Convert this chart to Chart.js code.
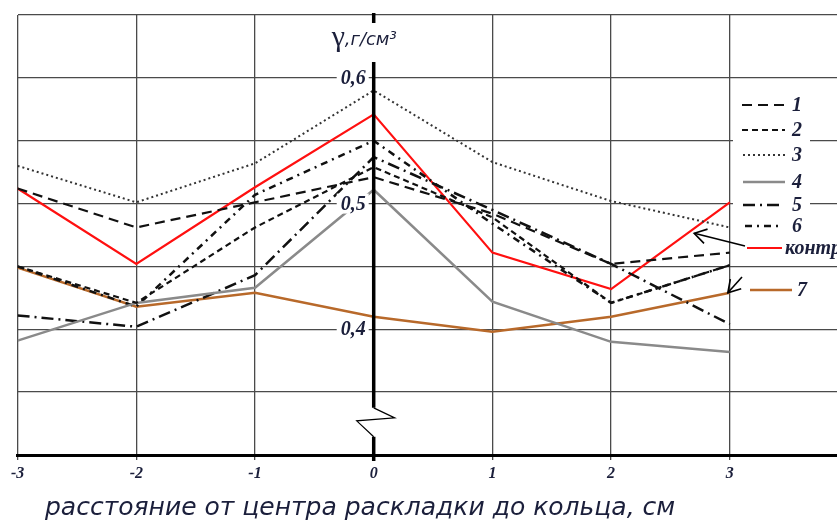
<!DOCTYPE html>
<html><head><meta charset="utf-8">
<script src="https://cdn.jsdelivr.net/npm/chart.js@4.4.1/dist/chart.umd.min.js"></script>
<style>html,body{margin:0;padding:0;background:#fff;overflow:hidden}#wrap{width:837px;height:522px;position:relative}</style>
</head><body><div id="wrap"><canvas id="c" width="837" height="522"></canvas></div>
<script>
// ---- data ----
const xValues = [-3, -2, -1, 0, 1, 2, 3];
const xTickLabels = ['-3', '-2', '-1', '0', '1', '2', '3'];
const yTickValues = [0.6, 0.5, 0.4];
const yTickLabels = ['0,6', '0,5', '0,4'];
const seriesLabels = ['1', '2', '3', '4', '5', '6', 'контроль', '7'];
const s1 = [0.512, 0.481, 0.501, 0.521, 0.492, 0.452, 0.461];
const s2 = [0.450, 0.421, 0.481, 0.529, 0.489, 0.421, 0.451];
const s3 = [0.530, 0.501, 0.532, 0.590, 0.533, 0.502, 0.481];
const s4 = [0.391, 0.421, 0.433, 0.511, 0.422, 0.390, 0.382];
const s5 = [0.411, 0.402, 0.443, 0.537, 0.495, 0.452, 0.404];
const s6 = [0.450, 0.418, 0.507, 0.550, 0.484, 0.421, 0.451];
const sControl = [0.512, 0.452, 0.513, 0.571, 0.461, 0.432, 0.501];
const s7 = [0.449, 0.418, 0.429, 0.410, 0.398, 0.410, 0.429];
const yTitleSymbol = 'γ';
const yTitleUnit = ',г/см³';
const xTitle = 'расстояние от центра раскладки до кольца, см';

// ---- styles ----
const seriesData = [s1, s2, s3, s4, s5, s6, sControl, s7];
const styles = [
  {color: '#111', width: 2.2, dash: [10, 6]},
  {color: '#111', width: 2.2, dash: [6, 4]},
  {color: '#333', width: 2, dash: [2, 3]},
  {color: '#8a8a8a', width: 2.5, dash: []},
  {color: '#111', width: 2.5, dash: [12, 5, 2, 5]},
  {color: '#111', width: 2.5, dash: [7, 5, 2, 5]},
  {color: '#ff1010', width: 2.2, dash: []},
  {color: '#b8692a', width: 2.5, dash: []}
];
const TEXT = '#1b1f3b';
const SERIF = "'Liberation Serif', 'DejaVu Serif', serif";

const datasets = seriesData.map((arr, i) => ({
  label: seriesLabels[i],
  data: arr.map((v, j) => ({x: xValues[j], y: v})),
  borderColor: styles[i].color,
  borderWidth: styles[i].width,
  borderDash: styles[i].dash,
  pointRadius: 0,
  tension: 0,
  fill: false
}));

function arrow(ctx, x1, y1, x2, y2) {
  ctx.beginPath(); ctx.moveTo(x1, y1); ctx.lineTo(x2, y2); ctx.stroke();
  const a = Math.atan2(y2 - y1, x2 - x1), L = 14, w = 0.55;
  ctx.beginPath();
  ctx.moveTo(x2 - L * Math.cos(a - w), y2 - L * Math.sin(a - w));
  ctx.lineTo(x2, y2);
  ctx.lineTo(x2 - L * Math.cos(a + w), y2 - L * Math.sin(a + w));
  ctx.stroke();
}

const decor = {
  id: 'decor',
  afterDatasetsDraw(chart) {
    const ctx = chart.ctx, xs = chart.scales.x, ys = chart.scales.y;
    const x0 = xs.getPixelForValue(0);
    const bTop = ys.getPixelForValue(0.3375), bBot = ys.getPixelForValue(0.3145);
    ctx.save();
    // y axis (vertical at x = 0)
    ctx.strokeStyle = '#000'; ctx.lineWidth = 3.5; ctx.setLineDash([]);
    ctx.beginPath();
    ctx.moveTo(x0, ys.top - 2); ctx.lineTo(x0, ys.top + 8);
    ctx.moveTo(x0, ys.top + 47); ctx.lineTo(x0, bTop);
    ctx.moveTo(x0, bBot); ctx.lineTo(x0, ys.bottom + 6);
    ctx.stroke();
    // axis break zigzag
    ctx.lineWidth = 1.2;
    ctx.beginPath();
    ctx.moveTo(x0, bTop); ctx.lineTo(x0 + 21, bTop + 10);
    ctx.lineTo(x0 - 17, bTop + 13); ctx.lineTo(x0, bBot);
    ctx.stroke();
    // y tick labels
    ctx.font = 'bold italic 20px ' + SERIF;
    ctx.textAlign = 'right'; ctx.textBaseline = 'middle';
    yTickValues.forEach((v, i) => {
      const y = ys.getPixelForValue(v);
      const w = ctx.measureText(yTickLabels[i]).width;
      ctx.fillStyle = '#fff';
      ctx.fillRect(x0 - 9 - w - 3, y - 10, w + 7, 20);
      ctx.fillStyle = TEXT;
      ctx.fillText(yTickLabels[i], x0 - 8, y + 1);
    });
    // y title
    ctx.textAlign = 'left'; ctx.textBaseline = 'alphabetic';
    ctx.fillStyle = TEXT;
    ctx.font = '30px ' + SERIF;
    ctx.fillText(yTitleSymbol, x0 - 42, ys.top + 31);
    ctx.font = 'italic 18px "DejaVu Sans", sans-serif';
    ctx.fillText(yTitleUnit, x0 - 29, ys.top + 30);
    // legend box
    ctx.fillStyle = '#fff';
    ctx.fillRect(733, 92, 77, 170);
    const legY = [105, 130, 155, 182, 205, 226, 248, 290];
    const legX1 = [742, 742, 743, 743, 743, 745, 747, 750];
    const legX2 = [785, 785, 785, 785, 782, 780, 782, 792];
    const legTx = [792, 792, 792, 792, 792, 792, 785, 797];
    ctx.font = 'bold italic 20px ' + SERIF;
    ctx.textBaseline = 'middle';
    datasets.forEach((d, i) => {
      ctx.strokeStyle = d.borderColor; ctx.lineWidth = d.borderWidth;
      ctx.setLineDash(d.borderDash);
      ctx.beginPath(); ctx.moveTo(legX1[i], legY[i]); ctx.lineTo(legX2[i], legY[i]); ctx.stroke();
      ctx.setLineDash([]);
      ctx.fillStyle = TEXT;
      ctx.fillText(d.label, legTx[i], legY[i] + 1);
    });
    // arrows
    ctx.strokeStyle = '#000'; ctx.lineWidth = 1.6; ctx.setLineDash([]);
    const tx = xs.getPixelForValue(2.7);
    const ty = ys.getPixelForValue(sControl[5] + 0.7 * (sControl[6] - sControl[5]));
    arrow(ctx, 745, 246, tx, ty + 5);
    arrow(ctx, 742, 277, xs.getPixelForValue(3) - 2, ys.getPixelForValue(s7[6]));
    // x title
    ctx.font = 'italic 25px "DejaVu Sans", sans-serif';
    ctx.fillStyle = TEXT; ctx.textAlign = 'left'; ctx.textBaseline = 'middle';
    ctx.fillText(xTitle, 45, 508);
    ctx.restore();
  }
};

new Chart(document.getElementById('c'), {
  type: 'line',
  data: {datasets},
  options: {
    responsive: false, animation: false, devicePixelRatio: 1,
    layout: {padding: {top: 15, right: 0, left: 0, bottom: 0}},
    plugins: {legend: {display: false}, tooltip: {enabled: false}},
    scales: {
      x: {
        type: 'linear', min: -3, max: 3.903,
        afterBuildTicks: s => { s.ticks = xValues.map(v => ({value: v})); },
        afterFit: s => { s.height = 67; },
        ticks: {
          autoSkip: false, maxRotation: 0, padding: 4, color: TEXT,
          font: {family: SERIF, size: 16, style: 'italic', weight: 'bold'},
          callback: (v, i) => xTickLabels[i]
        },
        grid: {
          color: c => (c.tick && c.tick.value === 0) ? 'rgba(0,0,0,0)' : '#4a4a4a',
          lineWidth: 1.3, tickLength: 5
        },
        border: {display: true, color: '#000', width: 3}
      },
      y: {
        min: 0.3, max: 0.65,
        afterFit: s => { s.width = 17.6; },
        ticks: {display: false, stepSize: 0.05},
        grid: {color: '#4a4a4a', lineWidth: 1.3, drawTicks: false},
        border: {display: false}
      }
    }
  },
  plugins: [decor]
});
</script></body></html>
